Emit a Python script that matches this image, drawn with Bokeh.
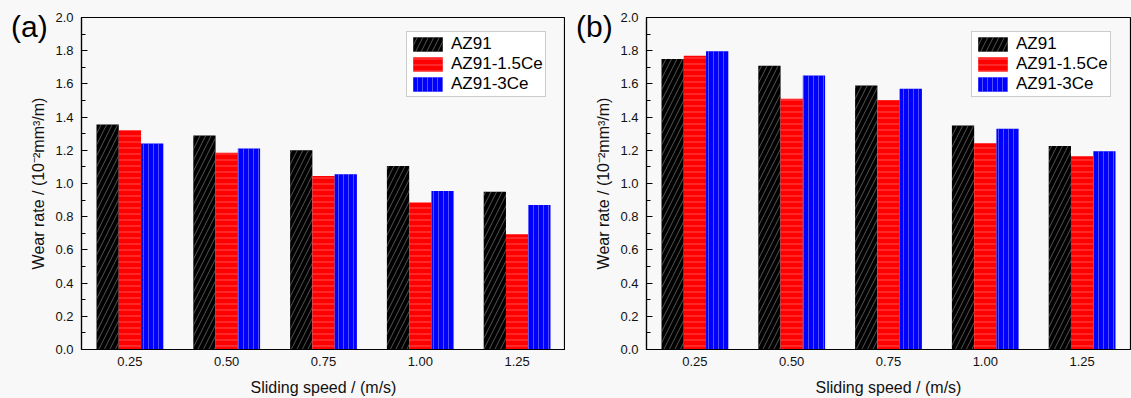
from bokeh.plotting import figure
from bokeh.models import (ColumnDataSource, FactorRange, Range1d, SingleIntervalTicker,
                          Legend, LegendItem, Div, CustomJSTickFormatter)
from bokeh.transform import dodge
from bokeh.layouts import row
from bokeh.embed import file_html
from bokeh.resources import INLINE

speeds = ["0.25", "0.50", "0.75", "1.00", "1.25"]
series = ["AZ91", "AZ91-1.5Ce", "AZ91-3Ce"]

# panel (a)
a_az91 = [1.355, 1.289, 1.201, 1.105, 0.951]
a_15ce = [1.321, 1.185, 1.045, 0.885, 0.695]
a_3ce = [1.241, 1.211, 1.055, 0.955, 0.871]

# panel (b)
b_az91 = [1.750, 1.710, 1.591, 1.349, 1.226]
b_15ce = [1.770, 1.511, 1.503, 1.242, 1.164]
b_3ce = [1.796, 1.651, 1.571, 1.330, 1.194]

yticks_interval = 0.2
FONT = "Liberation Sans"
BG = "#f8f8f8"

styles = [
    dict(fill_color="#000000", hatch_pattern="right_diagonal_line", hatch_color="#8c8c8c", hatch_scale=11, hatch_weight=0.6),
    dict(fill_color="#ff0000", hatch_pattern="horizontal_line", hatch_color="#ffa0a0", hatch_scale=6, hatch_weight=0.5),
    dict(fill_color="#0000ff", hatch_pattern="vertical_line", hatch_color="#a0a0ff", hatch_scale=5, hatch_weight=0.5),
]
offsets = [-0.23, 0.0, 0.23]


def make_panel(vals, width, top_border, right_border):
    src = ColumnDataSource(dict(speed=speeds, s0=vals[0], s1=vals[1], s2=vals[2]))
    p = figure(x_range=FactorRange(factors=speeds, range_padding=0),
               y_range=Range1d(0, 2.0), width=width, height=398,
               output_backend="svg", toolbar_location=None,
               min_border_left=81, min_border_right=right_border,
               min_border_top=top_border, min_border_bottom=48,
               background_fill_color=BG, border_fill_color=BG)
    p.grid.visible = False
    p.outline_line_color = "#000000"
    p.outline_line_width = 1.2
    renderers = []
    for i, key in enumerate(["s0", "s1", "s2"]):
        r = p.vbar(x=dodge("speed", offsets[i], range=p.x_range), top=key, width=0.23,
                   bottom=0, source=src, line_color=None, **styles[i])
        renderers.append(r)

    p.yaxis.ticker = SingleIntervalTicker(interval=yticks_interval, num_minor_ticks=2)
    p.yaxis.formatter = CustomJSTickFormatter(code="return tick.toFixed(1);")
    for ax in (p.xaxis, p.yaxis):
        ax.axis_line_color = "#000000"
        ax.axis_line_width = 1.2
        ax.major_label_text_font = FONT
        ax.major_label_text_font_size = "13px"
        ax.major_label_text_color = "#111111"
        ax.axis_label_text_font = FONT
        ax.axis_label_text_font_size = "16px"
        ax.axis_label_text_font_style = "normal"
        ax.axis_label_text_color = "#111111"
    p.yaxis.major_tick_in = 6
    p.yaxis.major_tick_out = 0
    p.yaxis.minor_tick_in = 4
    p.yaxis.minor_tick_out = 0
    p.yaxis.major_tick_line_color = "#000000"
    p.yaxis.minor_tick_line_color = "#000000"
    p.yaxis.major_label_standoff = 8
    p.yaxis.axis_label = "Wear rate / (10\u207b\u00b2mm\u00b3/m)"
    p.yaxis.axis_label_standoff = 5
    p.xaxis.major_tick_line_color = None
    p.xaxis.minor_tick_line_color = None
    p.xaxis.major_tick_in = 0
    p.xaxis.major_tick_out = 0
    p.xaxis.major_label_standoff = 7
    p.xaxis.axis_label = "Sliding speed / (m/s)"
    p.xaxis.axis_label_standoff = 10

    legend = Legend(items=[LegendItem(label=series[i], renderers=[renderers[i]]) for i in range(3)],
                    location=(325, 252), orientation="vertical",
                    glyph_width=37, glyph_height=18, label_standoff=5, spacing=0,
                    padding=2, margin=0,
                    label_text_font=FONT, label_text_font_size="17px",
                    label_text_color="#000000", label_height=18,
                    border_line_color="#9a9a9a", border_line_width=1.5,
                    background_fill_color="#ffffff", background_fill_alpha=1)
    p.add_layout(legend, "center")
    return p


pa = make_panel([a_az91, a_15ce, a_3ce], 565, 17, 0)
pb = make_panel([b_az91, b_15ce, b_3ce], 566, 15, 1)


def panel_tag(text, left):
    return Div(text=text, styles={"position": "absolute", "left": f"{left}px", "top": "1px",
                                  "font-family": FONT, "font-size": "30px", "color": "#000000",
                                  "z-index": "10"})


div_a = panel_tag("(a)", 6)
div_b = panel_tag("(b)", 571)

layout = row(pa, pb, div_a, div_b, spacing=0)
layout.styles = {"background-color": BG, "position": "relative"}
open("out.html", "w").write(file_html(layout, INLINE))
